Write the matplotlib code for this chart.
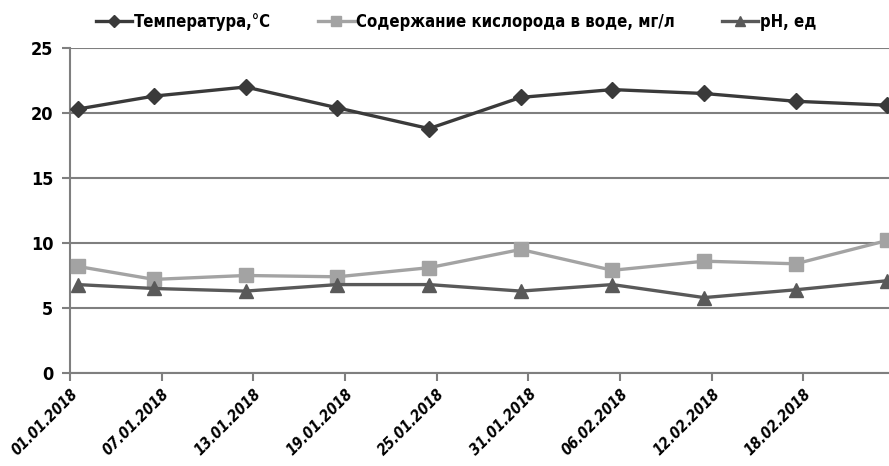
import pandas as pd
import matplotlib
matplotlib.use("Agg")
import matplotlib.pyplot as plt

plt.rcParams["font.family"] = ["DejaVu Sans"]
plt.rcParams["font.stretch"] = "condensed"

# measurements (taken around midday)
dates = ["2018-01-01 12:00", "2018-01-06 12:00", "2018-01-12 12:00", "2018-01-18 12:00",
         "2018-01-24 12:00", "2018-01-30 12:00", "2018-02-05 12:00", "2018-02-11 12:00",
         "2018-02-17 12:00", "2018-02-23 12:00"]
temperature = [20.3, 21.3, 22.0, 20.4, 18.8, 21.2, 21.8, 21.5, 20.9, 20.6]
oxygen = [8.2, 7.2, 7.5, 7.4, 8.1, 9.5, 7.9, 8.6, 8.4, 10.2]
ph = [6.8, 6.5, 6.3, 6.8, 6.8, 6.3, 6.8, 5.8, 6.4, 7.1]

tick_dates = ["01.01.2018", "07.01.2018", "13.01.2018", "19.01.2018", "25.01.2018",
              "31.01.2018", "06.02.2018", "12.02.2018", "18.02.2018"]

x = pd.to_datetime(dates)
ticks = pd.to_datetime(tick_dates, format="%d.%m.%Y")

fig = plt.figure(figsize=(8.89, 4.66), dpi=100)
ax = fig.add_axes([0.0787, 0.1996, 0.9213, 0.6974])

ax.plot(x, temperature, color="#3a3a3a", lw=2.4, marker="D", ms=8,
        label="Температура,°С", zorder=4)
ax.plot(x, oxygen, color="#a3a3a3", lw=2.4, marker="s", ms=10,
        label="Содержание кислорода в воде, мг/л", zorder=3)
ax.plot(x, ph, color="#595959", lw=2.4, marker="^", ms=10,
        label="рН, ед", zorder=3)

ax.set_ylim(0, 25)
ax.set_yticks([0, 5, 10, 15, 20, 25])
ax.set_xlim(ticks[0], ticks[0] + pd.Timedelta(days=53.6))
ax.set_xticks(ticks)
ax.set_xticklabels(tick_dates, rotation=45, ha="right", rotation_mode="anchor",
                   fontsize=11, fontweight="bold", fontstyle="italic")
ax.yaxis.grid(True, color="#7f7f7f", lw=1.5)
ax.set_axisbelow(True)

for s in ["top", "right"]:
    ax.spines[s].set_visible(False)
for s in ["left", "bottom"]:
    ax.spines[s].set_color("#7f7f7f")
    ax.spines[s].set_linewidth(1.5)
ax.tick_params(axis="both", colors="#7f7f7f", width=1.5, length=6, labelcolor="black")
ax.tick_params(axis="y", labelsize=13, pad=6)
for t in ax.get_yticklabels():
    t.set_fontweight("bold")

fig.legend(loc="center", bbox_to_anchor=(0.513, 0.953), ncol=3, frameon=False,
           prop={"size": 12, "weight": "bold", "stretch": "condensed"}, columnspacing=2.8,
           handlelength=2.2, handletextpad=0.1, markerscale=0.75)

plt.savefig("out.png", dpi=100)
